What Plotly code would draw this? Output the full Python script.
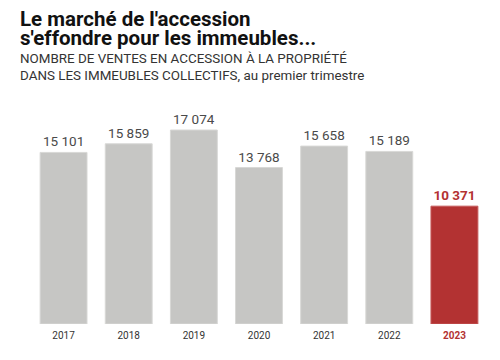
import plotly.graph_objects as go

years = ["2017", "2018", "2019", "2020", "2021", "2022", "2023"]
ventes = [15101, 15859, 17074, 13768, 15658, 15189, 10371]
labels = ["15 101", "15 859", "17 074", "13 768", "15 658", "15 189", "10 371"]

gray = "#c6c6c4"
red = "#b33232"
colors = [gray] * 6 + [red]
line_colors = ["#d8d8d6"] * 6 + ["#c45858"]
text_colors = ["#4a4a4a"] * 6 + [red]
text_labels = labels[:6] + ["<b>" + labels[6] + "</b>"]
tick_text = years[:6] + ["<b><span style='color:%s'>%s</span></b>" % (red, years[6])]

W, H = 500, 360
ML, MR, MT, MB = 23, 21, 92, 44

fig = go.Figure(go.Bar(
    x=years, y=ventes,
    marker=dict(color=colors, line=dict(color=line_colors, width=1)),
    text=text_labels, textposition="outside",
    textfont=dict(family="Roboto", size=13.5, color=text_colors),
    cliponaxis=False,
    hoverinfo="skip",
))

plot_h = H - MT - MB
plot_w = W - ML - MR
def py(pix):
    return (H - MB - pix) / plot_h
def px(pix):
    return (pix - ML) / plot_w

def ann(text, xpix, ypix, size, color):
    return dict(text=text, xref="paper", yref="paper", x=px(xpix), y=py(ypix),
                xanchor="left", yanchor="top", showarrow=False, align="left",
                font=dict(family="Roboto", size=size, color=color))

title_html = ("<span style='font-size:20.5px'><b>Le marché de l'accession</b></span><br>"
              "<span style='font-size:20.5px'><b>s'effondre pour les immeubles...</b></span>")

fig.update_layout(
    width=W, height=H,
    margin=dict(l=ML, r=MR, t=MT, b=MB),
    paper_bgcolor="white", plot_bgcolor="white",
    bargap=0.28,
    showlegend=False,
    xaxis=dict(tickmode="array", tickvals=years, ticktext=tick_text,
               tickfont=dict(family="Roboto", size=10, color="#333333"),
               ticklabelstandoff=4,
               showgrid=False, zeroline=False, showline=False, ticks="",
               fixedrange=True),
    yaxis=dict(range=[0, 19714], visible=False, fixedrange=True),
    annotations=[
        ann(title_html, 10, -3, 14.5, "#111111"),
        ann("NOMBRE DE VENTES EN ACCESSION À LA PROPRIÉTÉ<br>DANS LES IMMEUBLES COLLECTIFS, au premier trimestre",
            10, 41, 13.4, "#333333"),
    ],
)

fig.write_html("out.html")
